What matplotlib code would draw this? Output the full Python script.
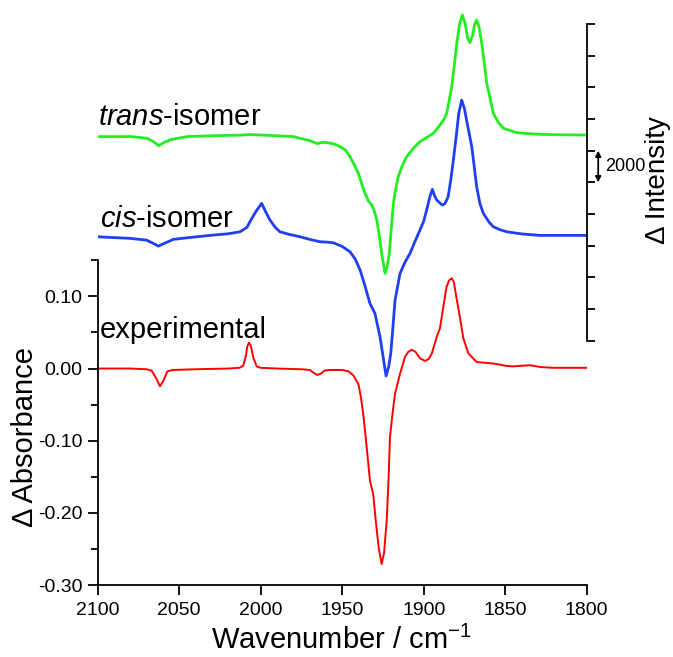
import matplotlib
matplotlib.use("Agg")
import matplotlib.pyplot as plt
from matplotlib.ticker import MultipleLocator
from matplotlib.transforms import blended_transform_factory
import numpy as np

plt.rcParams['font.family'] = ['Liberation Sans', 'DejaVu Sans']
plt.rcParams['mathtext.fontset'] = 'custom'
plt.rcParams['mathtext.rm'] = 'Liberation Sans'
plt.rcParams['mathtext.it'] = 'Liberation Sans:italic'

# ---------------- data ----------------
# experimental difference spectrum (Delta Absorbance)
exp_wn = [2100, 2080, 2070, 2066.9, 2064, 2061.8, 2059.5, 2057.3, 2054, 2040, 2020,
          2013, 2010.7, 2009, 2008.3, 2007.2, 2006, 2004.5, 2002.5, 2000, 1990, 1975,
          1969.8, 1967.5, 1965.3, 1963, 1961, 1958, 1950, 1946, 1943, 1940, 1938.5,
          1937, 1936, 1934.5, 1933, 1931, 1929, 1927.5, 1925.8, 1924.3, 1922.7, 1921.5,
          1920.7, 1919, 1917.6, 1914.5, 1911.5, 1909.5, 1907.4, 1905, 1902.2, 1899.2,
          1897, 1895, 1892, 1890, 1888, 1886, 1884.5, 1882.8, 1881.5, 1880.2, 1877.7,
          1875.7, 1872.6, 1867.5, 1857.3, 1849, 1845, 1835, 1828, 1820.6, 1800]
exp_abs = [0.000, 0.000, -0.001, -0.003, -0.014, -0.0246, -0.016, -0.004, -0.002, -0.001, 0.000,
           0.001, 0.004, 0.018, 0.030, 0.036, 0.031, 0.015, 0.003, 0.001, 0.000, -0.001,
           -0.002, -0.006, -0.009, -0.007, -0.003, -0.002, -0.002, -0.004, -0.010, -0.022, -0.040,
           -0.065, -0.086, -0.120, -0.155, -0.174, -0.220, -0.250, -0.271, -0.255, -0.211, -0.150,
           -0.095, -0.060, -0.035, -0.007, 0.016, 0.023, 0.026, 0.023, 0.014, 0.0106,
           0.013, 0.021, 0.044, 0.056, 0.085, 0.113, 0.122, 0.125, 0.120, 0.102, 0.070,
           0.042, 0.021, 0.009, 0.007, 0.0036, 0.003, 0.0046, 0.002, 0.001, 0.001]

# cis-isomer simulated spectrum (Delta Intensity, relative to its baseline)
cis_wn = [2100, 2080, 2070, 2066, 2062.8, 2059, 2053.6, 2045, 2029, 2020, 2012.7, 2008.5,
          2006.6, 2003, 1999.4, 1997, 1994.3, 1991, 1988.2, 1982, 1975.9, 1970, 1963.6,
          1960, 1955.5, 1950, 1945.2, 1942, 1939, 1936, 1933, 1929.9, 1928.5, 1926.8,
          1925, 1923.1, 1921.5, 1920.2, 1918.8, 1917.6, 1914.5, 1911.5, 1908.4, 1905.4,
          1902.3, 1900, 1898.2, 1896.3, 1894.7, 1893.3, 1892, 1888.6, 1887, 1885, 1883.4,
          1881.8, 1880, 1878.5, 1876.7, 1875, 1873.7, 1870.5, 1867.5, 1865.5, 1863.4,
          1860, 1857.3, 1853, 1849, 1844, 1838.9, 1828.6, 1800]
cis_int = [-90, -190, -300, -500, -676, -500, -253, -150, 19, 100, 227, 500,
           859, 1500, 2021, 1500, 966, 500, 227, 50, -88, -250, -404,
           -420, -467, -700, -1036, -1500, -2191, -3200, -4295, -4927, -5600, -6405,
           -7600, -8880, -8300, -7450, -5700, -4106, -2400, -1700, -1137, -400,
           335, 900, 1598, 2400, 2905, 2500, 2230, 1914, 2000, 2440, 3500,
           4756, 6300, 7700, 8545, 8000, 7282, 5598, 3070, 2000, 1390,
           850, 543, 350, 227, 150, 82, 0, 0]

# trans-isomer simulated spectrum (Delta Intensity, relative to its baseline)
trans_wn = [2100, 2080, 2070, 2066, 2062.5, 2059, 2054.6, 2045, 2030, 2010, 2007, 2000,
            1990, 1980, 1975.9, 1970, 1965, 1963.6, 1960, 1955, 1951.3, 1948, 1945.2,
            1942.5, 1940.1, 1938, 1936, 1934, 1931.9, 1930.3, 1928.8, 1927.3, 1925.8,
            1923.7, 1922.4, 1921.1, 1919.8, 1918.6, 1917, 1915.6, 1913, 1910.4, 1906,
            1902.3, 1898, 1894.1, 1890, 1887.5, 1885.9, 1884.5, 1882.8, 1881, 1879.7,
            1878, 1876.3, 1874.5, 1873, 1871.6, 1870, 1868.7, 1867.5, 1866, 1864.4,
            1862.8, 1861.3, 1859, 1857.3, 1854, 1851, 1846, 1842.9, 1835, 1828.6, 1815, 1800]
trans_int = [-107, -100, -200, -400, -675, -450, -274, -100, -50, 0, 30, 0,
             -50, -100, -210, -350, -560, -484, -470, -560, -737, -950, -1370,
             -1900, -2421, -3100, -3685, -4150, -4421, -4800, -5369, -6300, -7474,
             -8737, -8300, -7474, -5800, -4316, -3300, -2632, -1900, -1370, -800,
             -421, -150, 105, 632, 1000, 1368, 2100, 3052, 4600, 5790,
             7000, 7580, 7000, 6100, 5830, 6300, 7000, 7264, 6800, 5790,
             4500, 3263, 2200, 1370, 750, 421, 250, 147, 80, 42, 10, 0]

x_ticks = [2100, 2050, 2000, 1950, 1900, 1850, 1800]
y_ticks = [0.10, 0.00, -0.10, -0.20, -0.30]
y_ticklabels = ['0.10', '0.00', '-0.10', '-0.20', '-0.30']
int_ticks = list(range(0, 20001, 2000))
scale_bar = (10000, 12000)

# ---------------- layout ----------------
W, H = 673, 657
fig = plt.figure(figsize=(W / 100, H / 100), dpi=100)

left = 97.7 / W
right = 586.7 / W
bottom = (H - 585) / H
top_left_ax = (H - 260.3) / H

ax = fig.add_axes([left, bottom, right - left, top_left_ax - bottom])
ax.plot(exp_wn, exp_abs, color='#ff0000', lw=1.4, solid_joinstyle='round')
ax.set_xlim(2100, 1800)
ax.set_ylim(-0.30, 0.15)
ax.set_xticks(x_ticks)
ax.set_yticks(y_ticks)
ax.set_yticklabels(y_ticklabels)
ax.yaxis.set_minor_locator(MultipleLocator(0.05))
for s in ['top', 'right']:
    ax.spines[s].set_visible(False)
for s in ['left', 'bottom']:
    ax.spines[s].set_linewidth(1.3)
ax.tick_params(axis='both', which='major', labelsize=14, width=1.3, length=7, direction='out')
ax.tick_params(axis='y', which='minor', width=1.3, length=5, direction='out')
ax.tick_params(axis='y', pad=4)
ax.tick_params(axis='x', pad=5)
ax.patch.set_alpha(0)

# overlay axis for simulated intensities
ax2 = fig.add_axes([left, bottom, right - left, 1 - bottom])
ax2.patch.set_alpha(0)
ax2.set_xlim(2100, 1800)
ax2.set_ylim(-15430, 21515)
trans_off = 12990
cis_off = 6650
ax2.plot(trans_wn, np.array(trans_int) + trans_off, color='#22ee22', lw=2.0, solid_joinstyle='round')
ax2.plot(cis_wn, np.array(cis_int) + cis_off, color='#1f3ff0', lw=2.0, solid_joinstyle='round')
for s in ['top', 'left', 'bottom']:
    ax2.spines[s].set_visible(False)
ax2.spines['right'].set_bounds(int_ticks[0], int_ticks[-1])
ax2.spines['right'].set_linewidth(1.3)
ax2.set_xticks([])
ax2.yaxis.tick_right()
ax2.set_yticks(int_ticks)
ax2.set_yticklabels([])
ax2.tick_params(axis='y', which='major', width=1.3, length=6, direction='out')

# scale bar arrow
tr = blended_transform_factory(ax2.transAxes, ax2.transData)
xa = 1 + 11.5 / (586.7 - 97.7)
ax2.annotate('', xy=(xa, scale_bar[1]), xytext=(xa, scale_bar[0]), xycoords=tr, textcoords=tr,
             arrowprops=dict(arrowstyle='<|-|>', color='black', lw=1.3, mutation_scale=8,
                             shrinkA=0, shrinkB=0), annotation_clip=False)
ax2.text(1 + 18 / (586.7 - 97.7), (scale_bar[0] + scale_bar[1]) / 2, '2000', transform=tr,
         ha='left', va='center', fontsize=13, clip_on=False)

# curve labels
ax2.text(2100, 13624, r'$\mathit{trans}$-isomer', ha='left', va='baseline', fontsize=21)
ax2.text(2098.6, 7200, r'$\mathit{cis}$-isomer', ha='left', va='baseline', fontsize=21)
ax.text(2098.6, 0.0417, 'experimental', ha='left', va='baseline', fontsize=21)

# axis labels
fig.text(25 / W, 1 - 437 / H, 'Δ Absorbance', rotation=90, ha='center', va='center', fontsize=21)
fig.text(658 / W, 1 - 180 / H, 'Δ Intensity', rotation=90, ha='center', va='center', fontsize=20)
fig.text(341 / W, 8 / H, 'Wavenumber / cm$^{\\mathregular{-1}}$', ha='center', va='baseline', fontsize=21)

fig.savefig('out.png', dpi=100)
